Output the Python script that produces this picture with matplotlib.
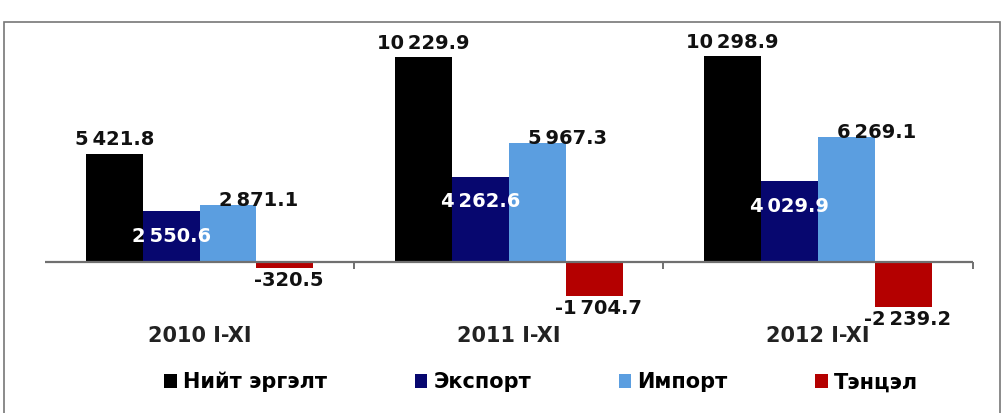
import matplotlib
matplotlib.use('Agg')
import matplotlib.pyplot as plt
from matplotlib.patches import Patch, Rectangle
import numpy as np

# Гадаад худалдааны үзүүлэлт, сая ам.доллар
periods = ['2010 I-XI', '2011 I-XI', '2012 I-XI']
series = ['Нийт эргэлт', 'Экспорт', 'Импорт', 'Тэнцэл']
turnover = [5421.8, 10229.9, 10298.9]
export = [2550.6, 4262.6, 4029.9]
imports = [2871.1, 5967.3, 6269.1]
balance = [-320.5, -1704.7, -2239.2]

colors = ['#000000', '#07076f', '#5b9ee0', '#b40000']

plt.rcParams['font.family'] = ['DejaVu Sans']
plt.rcParams['font.weight'] = 'bold'


def fmt(v):
    return '{:,.1f}'.format(v).replace(',', '\u2009')


fig = plt.figure(figsize=(10.04, 4.13), dpi=100)
ax = fig.add_axes([0.0448, 0.201, 0.924, 0.702])

x = np.arange(len(periods))
w = 0.184
values = [turnover, export, imports, balance]
bars = []
for i, vals in enumerate(values):
    b = ax.bar(x + (i - 1.5) * w, vals, w, color=colors[i], zorder=2)
    bars.append(b)

# Тэнхлэг - тэг шугам
ax.spines['bottom'].set_position(('data', 0))
for s in ax.spines.values():
    s.set_visible(False)
ax.axhline(0, color='#707070', lw=1.6, zorder=3)
ax.set_xlim(-0.5, 2.5)
ax.set_ylim(-3400, 11100)
ax.set_yticks([])
ax.set_xticks(x)
ax.set_xticklabels(periods)
ax.tick_params(axis='x', which='major', length=0, pad=46,
               labelsize=15, labelcolor='#222222')
ax.set_xticks([0.5, 1.5, 2.5], minor=True)
ax.tick_params(axis='x', which='minor', length=5, width=1.4, color='#707070')
for t in ax.get_xticklabels():
    t.set_fontweight('bold')

lab = dict(fontsize=14, fontweight='bold', ha='center')
for j in range(len(periods)):
    r = bars[0][j]
    ax.annotate(fmt(turnover[j]), (r.get_x() + w / 2, turnover[j]), xytext=(0, 3),
                textcoords='offset points', va='bottom', color='#111111', **lab)
    r = bars[1][j]
    ax.annotate(fmt(export[j]), (r.get_x() + w / 2, export[j]), xytext=(0, -18),
                textcoords='offset points', va='center', color='white', zorder=5, **lab)
    r = bars[2][j]
    ax.annotate(fmt(imports[j]), (r.get_x() + w / 2, imports[j]), xytext=(22, 3),
                textcoords='offset points', va='center', color='#111111', zorder=5, **lab)
    r = bars[3][j]
    ax.annotate(fmt(balance[j]), (r.get_x() + w / 2, balance[j]), xytext=(3, -2),
                textcoords='offset points', va='top', color='#111111', **lab)

handles = [Patch(facecolor=c, edgecolor='none') for c in colors]
fig.legend(handles, series, loc='center', bbox_to_anchor=(0.539, 0.075), ncol=4,
           frameon=False, handlelength=0.6, handleheight=0.6,
           handletextpad=0.3, columnspacing=4.2, prop={'weight': 'bold', 'size': 15})

# Хүрээ
fig.patches.append(Rectangle((4 / 1004, -0.02), 996 / 1004, 0.967,
                             transform=fig.transFigure, fill=False,
                             edgecolor='#777777', lw=1.2))

fig.savefig('out.png', dpi=100)
